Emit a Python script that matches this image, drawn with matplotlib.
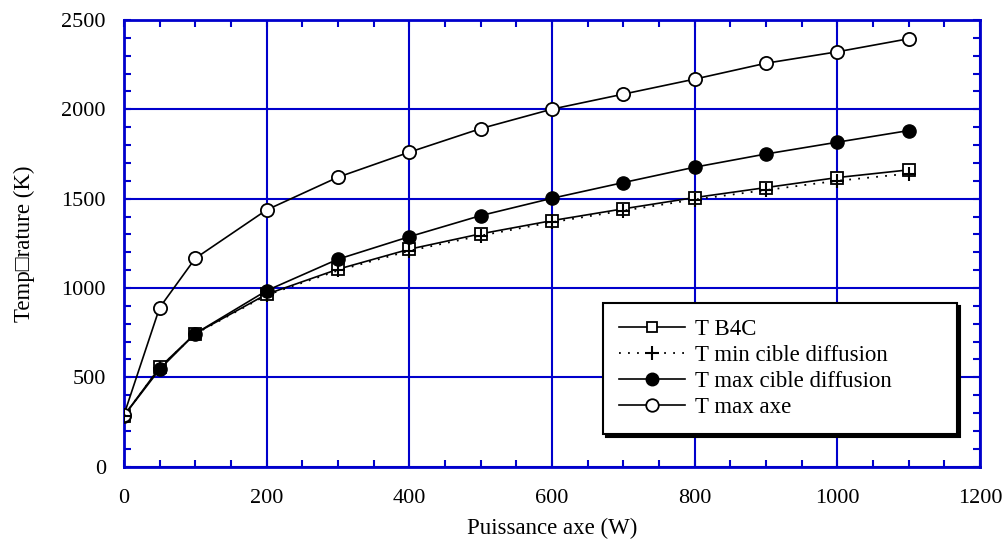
import matplotlib
matplotlib.use("Agg")
import matplotlib.pyplot as plt
from matplotlib.ticker import MultipleLocator

plt.rcParams['font.family'] = ['Liberation Serif', 'DejaVu Sans']

puissance = [0, 50, 100, 200, 300, 400, 500, 600, 700, 800, 900, 1000, 1100]
t_b4c = [285, 555, 745, 965, 1105, 1217, 1303, 1377, 1443, 1506, 1562, 1618, 1661]
t_min_cible = [285, 553, 743, 960, 1098, 1208, 1293, 1368, 1433, 1495, 1548, 1600, 1640]
t_max_cible = [285, 545, 745, 985, 1161, 1287, 1405, 1502, 1590, 1676, 1750, 1816, 1881]
t_max_axe = [290, 890, 1166, 1437, 1620, 1760, 1892, 2001, 2085, 2169, 2258, 2322, 2395]

BLUE = '#0000cc'

fig = plt.figure(figsize=(10.03, 5.48), dpi=100)
ax = fig.add_axes([0.1236, 0.1485, 0.8534, 0.815])

ax.plot(puissance, t_b4c, '-', color='black', lw=1.2, marker='s', ms=8,
        mfc='white', mec='black', mew=1.3, label='T B4C', zorder=3)
ax.plot(puissance, t_min_cible, color='black', lw=1.3, ls=(0, (1, 4)), marker='+',
        ms=10, mew=1.5, label='T min cible diffusion', zorder=4)
ax.plot(puissance, t_max_cible, '-', color='black', lw=1.2, marker='o', ms=9.5,
        mfc='black', mec='black', label='T max cible diffusion', zorder=3)
ax.plot(puissance, t_max_axe, '-', color='black', lw=1.2, marker='o', ms=9.5,
        mfc='white', mec='black', mew=1.3, label='T max axe', zorder=3)

ax.set_xlim(0, 1200)
ax.set_ylim(0, 2500)
ax.xaxis.set_major_locator(MultipleLocator(200))
ax.xaxis.set_minor_locator(MultipleLocator(50))
ax.yaxis.set_major_locator(MultipleLocator(500))
ax.yaxis.set_minor_locator(MultipleLocator(100))

ax.grid(True, which='major', color=BLUE, lw=1.5, zorder=1)
ax.set_axisbelow(True)
for sp in ax.spines.values():
    sp.set_color(BLUE)
    sp.set_linewidth(2)
ax.tick_params(which='both', direction='in', top=True, right=True, color=BLUE,
               labelsize=16)
ax.tick_params(axis='x', which='both', pad=16)
ax.tick_params(axis='y', which='both', pad=13)
ax.tick_params(which='major', length=5, width=1.5)
ax.tick_params(which='minor', length=5, width=1.5)

ax.set_xlabel('Puissance axe (W)', fontsize=16.5, labelpad=7)
ax.set_ylabel('Temp\u25a1rature (K)', fontsize=16.5, labelpad=19)

leg = ax.legend(loc='upper left', bbox_to_anchor=(0.5596, 0.3663, 0.4136, 0.0),
                mode='expand', fontsize=16.5, frameon=True, fancybox=False,
                shadow={'color': 'black', 'alpha': 1}, borderaxespad=0,
                handlelength=2.9, handletextpad=0.4, labelspacing=0.22,
                borderpad=0.7, markerscale=0.95)
leg.get_frame().set_edgecolor('black')
leg.get_frame().set_linewidth(1.5)
leg.get_frame().set_alpha(1)

fig.savefig('out.png', dpi=100)
